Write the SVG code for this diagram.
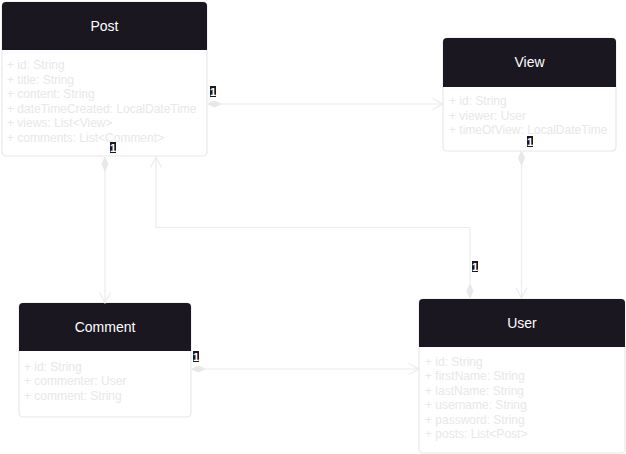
<svg xmlns="http://www.w3.org/2000/svg" width="626" height="454" viewBox="0 0 626 454">
<defs>
<style>
.box{fill:#ffffff;stroke:#e8e8e8;stroke-width:1.2}
.hdr{fill:#1a1720}
.title{font-family:"Liberation Sans",Arial,sans-serif;font-size:14px;fill:#ffffff;text-anchor:middle}
.attr{font-family:"Liberation Sans",Arial,sans-serif;font-size:12px;fill:#e8e8e8}
.conn{fill:none;stroke:#ececec;stroke-width:1.2}
.dia{fill:#e8e8e8;stroke:#e8e8e8;stroke-width:1}
.lblbg{fill:#1a1720}
.lbl{font-family:"Liberation Sans",Arial,sans-serif;font-size:11px;font-weight:bold;fill:#ffffff;text-anchor:middle}
</style>
<marker id="open" viewBox="0 0 12 12" refX="11" refY="6" markerWidth="12" markerHeight="12" markerUnits="userSpaceOnUse" orient="auto">
<path d="M0.5,0.5 L11,6 L0.5,11.5" fill="none" stroke="#ececec" stroke-width="1.2"/>
</marker>
</defs>

<g id="Post">
<rect class="box" x="2" y="2" width="205" height="154" rx="4"/>
<path class="hdr" d="M2,50 V6 A4,4 0 0 1 6,2 H203 A4,4 0 0 1 207,6 V50 Z"/>
<text class="title" x="104.5" y="31">Post</text>
<text class="attr" x="7" y="69">+ id: String</text>
<text class="attr" x="7" y="83.5">+ title: String</text>
<text class="attr" x="7" y="98">+ content: String</text>
<text class="attr" x="7" y="112.5">+ dateTimeCreated: LocalDateTime</text>
<text class="attr" x="7" y="127">+ views: List&lt;View&gt;</text>
<text class="attr" x="7" y="141.5">+ comments: List&lt;Comment&gt;</text>
</g>

<g id="View">
<rect class="box" x="443" y="38" width="173" height="113" rx="4"/>
<path class="hdr" d="M443,87 V42 A4,4 0 0 1 447,38 H612 A4,4 0 0 1 616,42 V87 Z"/>
<text class="title" x="529.5" y="67">View</text>
<text class="attr" x="449" y="105">+ id: String</text>
<text class="attr" x="449" y="119.5">+ viewer: User</text>
<text class="attr" x="449" y="134">+ timeOfView: LocalDateTime</text>
</g>

<g id="Comment">
<rect class="box" x="19" y="303" width="172" height="114" rx="4"/>
<path class="hdr" d="M19,351 V307 A4,4 0 0 1 23,303 H187 A4,4 0 0 1 191,307 V351 Z"/>
<text class="title" x="105" y="332">Comment</text>
<text class="attr" x="24" y="370.5">+ id: String</text>
<text class="attr" x="24" y="385">+ commenter: User</text>
<text class="attr" x="24" y="399.5">+ comment: String</text>
</g>

<g id="User">
<rect class="box" x="419" y="299" width="206" height="154" rx="4"/>
<path class="hdr" d="M419,347 V303 A4,4 0 0 1 423,299 H621 A4,4 0 0 1 625,303 V347 Z"/>
<text class="title" x="522" y="328">User</text>
<text class="attr" x="425" y="365.5">+ id: String</text>
<text class="attr" x="425" y="380">+ firstName: String</text>
<text class="attr" x="425" y="394.5">+ lastName: String</text>
<text class="attr" x="425" y="409">+ username: String</text>
<text class="attr" x="425" y="423.5">+ password: String</text>
<text class="attr" x="425" y="438">+ posts: List&lt;Post&gt;</text>
</g>

<g id="connectors">
<g id="post-view">
<path class="conn" d="M221,104 H443" marker-end="url(#open)"/>
<path class="dia" d="M208,104 L214.5,101 L221,104 L214.5,107 Z"/>
<rect class="lblbg" x="210" y="86" width="6" height="11"/>
<text class="lbl" x="213" y="95.5">1</text>
</g>
<g id="view-user">
<path class="conn" d="M521.5,165 V298" marker-end="url(#open)"/>
<path class="dia" d="M521.5,151 L524.5,158 L521.5,165 L518.5,158 Z"/>
<rect class="lblbg" x="527" y="136" width="6" height="11"/>
<text class="lbl" x="530" y="145.5">1</text>
</g>
<g id="user-post">
<path class="conn" d="M470,284 V227.5 H156 V157" marker-end="url(#open)"/>
<path class="dia" d="M470,298 L473,291 L470,284 L467,291 Z"/>
<rect class="lblbg" x="472" y="261" width="6" height="11"/>
<text class="lbl" x="475" y="270.5">1</text>
</g>
<g id="post-comment">
<path class="conn" d="M105,171 V303" marker-end="url(#open)"/>
<path class="dia" d="M105,157 L108,164 L105,171 L102,164 Z"/>
<rect class="lblbg" x="110" y="142" width="6" height="11"/>
<text class="lbl" x="113" y="151.5">1</text>
</g>
<g id="comment-user">
<path class="conn" d="M205,369 H419" marker-end="url(#open)"/>
<path class="dia" d="M192,369 L198.5,366 L205,369 L198.5,372 Z"/>
<rect class="lblbg" x="193" y="351" width="6" height="11"/>
<text class="lbl" x="196" y="360.5">1</text>
</g>
</g>
</svg>
